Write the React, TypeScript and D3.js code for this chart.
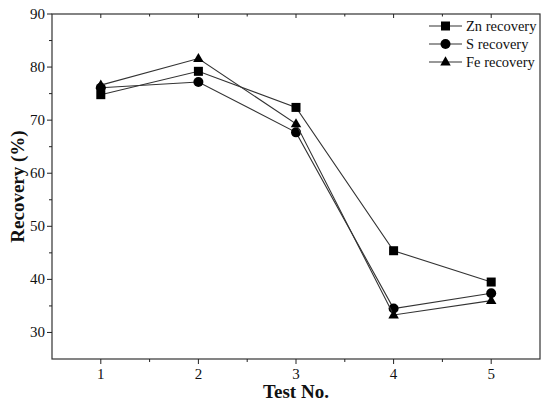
import React from "react";
import * as d3 from "d3";

const tests = [1, 2, 3, 4, 5];
const znRecovery = [74.8, 79.2, 72.4, 45.4, 39.5];
const sRecovery = [76.1, 77.2, 67.7, 34.5, 37.4];
const feRecovery = [76.6, 81.6, 69.3, 33.3, 36.0];
const seriesNames = ["Zn recovery", "S recovery", "Fe recovery"];
const yTicks = [30, 40, 50, 60, 70, 80, 90];

const W = 550, H = 408;
const M = { left: 52, top: 14, right: 540, bottom: 359 };
const FONT = "Liberation Serif, Times New Roman, serif";

function Marker({ kind, x, y }: { kind: string; x: number; y: number }) {
  if (kind === "square") return <rect x={x - 4.5} y={y - 4.5} width={9} height={9} fill="#000" />;
  if (kind === "circle") return <circle cx={x} cy={y} r={5} fill="#000" />;
  const s = 10.5;
  const h = s * 0.866;
  return <path d={`M${x},${y - h * 0.62} L${x + s / 2},${y + h * 0.38} L${x - s / 2},${y + h * 0.38} Z`} fill="#000" />;
}

export default function App() {
  const x = d3.scaleLinear().domain([0.5, 5.5]).range([M.left, M.right]);
  const y = d3.scaleLinear().domain([25, 90]).range([M.bottom, M.top]);
  const series = [
    { name: seriesNames[0], values: znRecovery, kind: "square" },
    { name: seriesNames[1], values: sRecovery, kind: "circle" },
    { name: seriesNames[2], values: feRecovery, kind: "triangle" },
  ];
  const line = d3.line<number>().x((_, i) => x(tests[i])).y((d) => y(d));
  const xMinor = d3.range(0.5, 5.51, 0.5).filter((v) => !tests.includes(v) && v > 0.5 && v < 5.5);
  const yMinor = d3.range(25, 90, 5).filter((v) => v % 10 !== 0 && v > 25);
  const stroke = "#222";
  const ts = { fontFamily: FONT };
  return (
    <svg width={W} height={H} style={{ position: "absolute", left: 0, top: 0, background: "#fff", fontFamily: FONT }}>
      <rect x={M.left} y={M.top} width={M.right - M.left} height={M.bottom - M.top} fill="none" stroke="#333" strokeWidth={1.2} />
      {tests.map((t) => (
        <g key={"bx" + t}>
          <line x1={x(t)} x2={x(t)} y1={M.bottom} y2={M.bottom + 5} stroke={stroke} />
          <line x1={x(t)} x2={x(t)} y1={M.top} y2={M.top + 4} stroke={stroke} />
          <text x={x(t)} y={M.bottom + 20} textAnchor="middle" fontSize={15} fill="#111" style={ts}>{t}</text>
        </g>
      ))}
      {xMinor.map((t) => (
        <g key={"mx" + t}>
          <line x1={x(t)} x2={x(t)} y1={M.bottom} y2={M.bottom + 3} stroke={stroke} />
          <line x1={x(t)} x2={x(t)} y1={M.top} y2={M.top + 2.5} stroke={stroke} />
        </g>
      ))}
      {yTicks.map((v) => (
        <g key={"y" + v}>
          <line x1={M.left - 5} x2={M.left} y1={y(v)} y2={y(v)} stroke={stroke} />
          <text x={M.left - 7} y={y(v) + 5} textAnchor="end" fontSize={15} fill="#111" style={ts}>{v}</text>
        </g>
      ))}
      {yMinor.map((v) => (
        <line key={"my" + v} x1={M.left - 3} x2={M.left} y1={y(v)} y2={y(v)} stroke={stroke} />
      ))}
      <text x={(M.left + M.right) / 2} y={398} textAnchor="middle" fontSize={19} fontWeight="bold" fill="#111" style={ts}>Test No.</text>
      <text transform={`translate(24,${(M.top + M.bottom) / 2}) rotate(-90)`} textAnchor="middle" fontSize={19} fontWeight="bold" fill="#111" style={ts}>Recovery (%)</text>
      {series.map((s) => (
        <g key={s.name}>
          <path d={line(s.values) || ""} fill="none" stroke="#333" strokeWidth={1.1} />
          {s.values.map((v, i) => (
            <Marker key={i} kind={s.kind} x={x(tests[i])} y={y(v)} />
          ))}
        </g>
      ))}
      {series.map((s, i) => {
        const ly = 26 + i * 18;
        return (
          <g key={"lg" + s.name}>
            <line x1={429} x2={462} y1={ly} y2={ly} stroke="#333" strokeWidth={1.1} />
            <Marker kind={s.kind} x={445.5} y={ly} />
            <text x={466} y={ly + 5} fontSize={14.5} fill="#111" style={ts}>{s.name}</text>
          </g>
        );
      })}
    </svg>
  );
}
